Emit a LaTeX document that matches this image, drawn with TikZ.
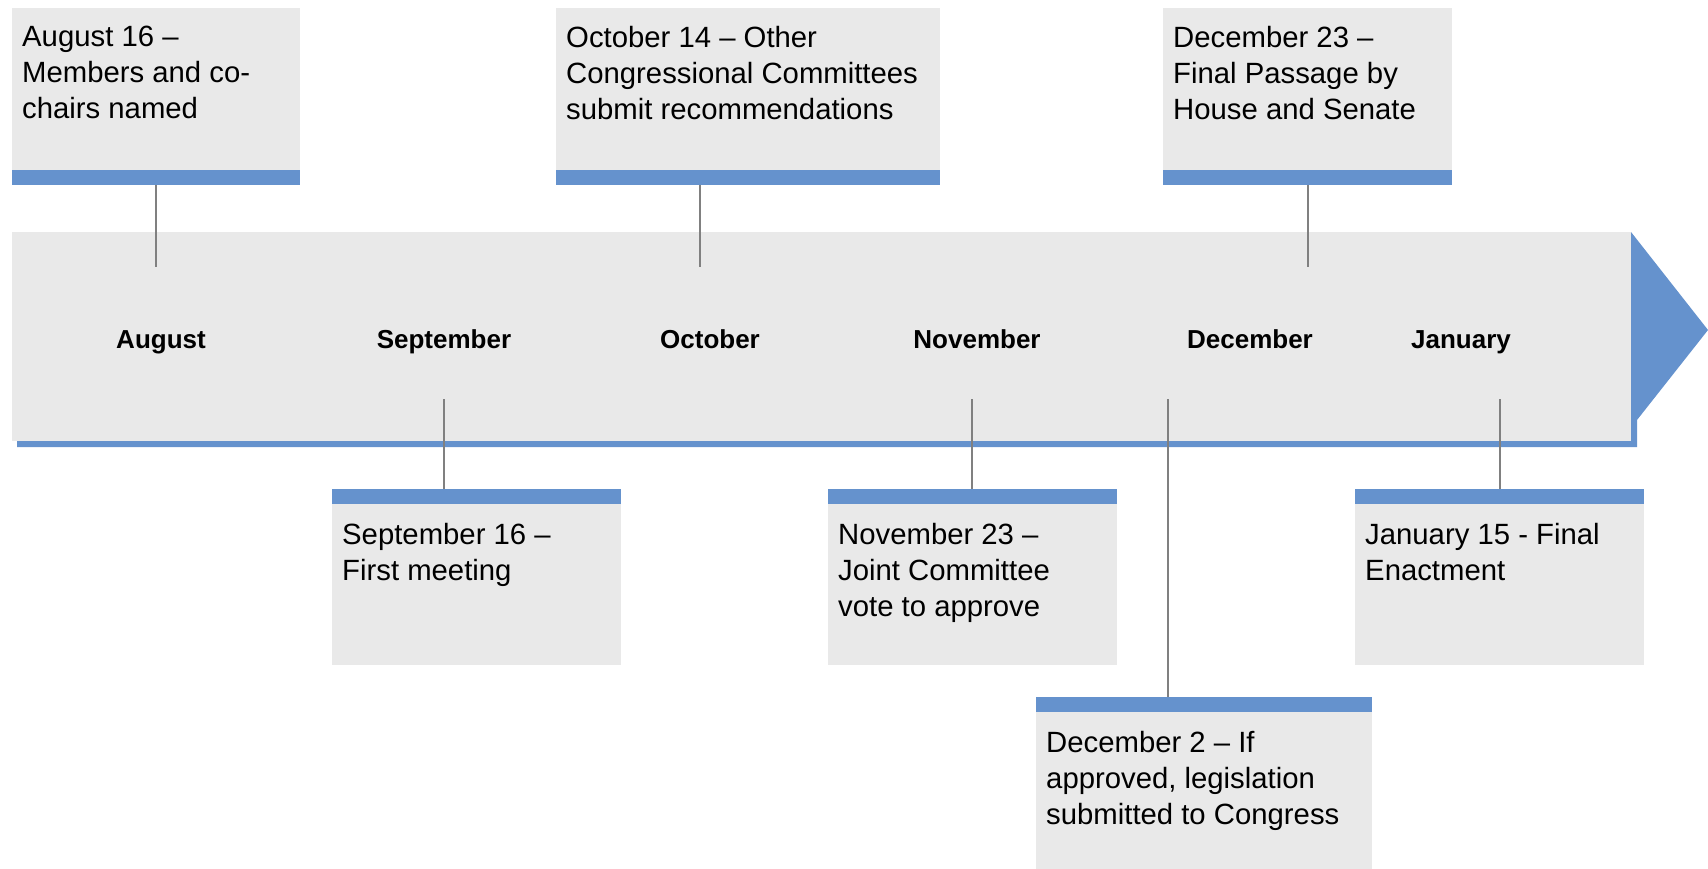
\documentclass[tikz,border=0pt]{standalone}
\usepackage{fontspec}
\setmainfont{Liberation Sans}
\definecolor{bandgray}{HTML}{E9E9E9}
\definecolor{barblue}{HTML}{6592CD}
\definecolor{linkgray}{HTML}{808080}
\begin{document}
\begin{tikzpicture}[x=1pt,y=-1pt,
  evbox/.style={rectangle, fill=bandgray, inner sep=0pt, anchor=north west},
  evbar/.style={rectangle, fill=barblue, inner sep=0pt, minimum height=15pt, anchor=north west},
  evtext/.style={inner sep=0pt, anchor=north west, align=left, font=\fontsize{29.3}{36}\selectfont},
  month/.style={inner sep=0pt, anchor=base, font=\fontsize{26}{30}\selectfont\bfseries},
  link/.style={draw=linkgray, line width=1.6pt}]
\useasboundingbox (0,0) rectangle (1708,869);
% timeline band with its blue arrow
\fill[barblue] (1631,232) -- (1708,330) -- (1637,420) -- (1637,447) -- (17,447) -- (17,300) -- (1631,300) -- cycle;
\fill[bandgray] (12,232) rectangle (1631,441);
\node[month] (m1) at (161,348){August};
\node[month] (m2) at (444,348){September};
\node[month] (m3) at (710,348){October};
\node[month] (m4) at (977,348){November};
\node[month] (m5) at (1250,348){December};
\node[month] (m6) at (1461,348){January};
% events above the band
\node[evbox, minimum width=288pt, minimum height=162pt] (b1) at (12,8){};
\node[evbar, minimum width=288pt] (bar1) at (12,170){};
\node[evtext] (t1) at (22,26){August 16 –\\Members and co-\\chairs named};
\coordinate (c1) at (156,267);
\draw[link] (c1 |- bar1.south) -- (c1);
\node[evbox, minimum width=384pt, minimum height=162pt] (b2) at (556,8){};
\node[evbar, minimum width=384pt] (bar2) at (556,170){};
\node[evtext] (t2) at (566,26){October 14 – Other\\Congressional Committees\\submit recommendations};
\coordinate (c2) at (700,267);
\draw[link] (c2 |- bar2.south) -- (c2);
\node[evbox, minimum width=289pt, minimum height=162pt] (b3) at (1163,8){};
\node[evbar, minimum width=289pt] (bar3) at (1163,170){};
\node[evtext] (t3) at (1173,26){December 23 –\\Final Passage by\\House and Senate};
\coordinate (c3) at (1308,267);
\draw[link] (c3 |- bar3.south) -- (c3);
% events below the band
\node[evbar, minimum width=289pt] (bar4) at (332,489){};
\node[evbox, minimum width=289pt, minimum height=161pt] (b4) at (332,504){};
\node[evtext] (t4) at (342,523){September 16 –\\First meeting};
\coordinate (c4) at (444,399);
\draw[link] (c4) -- (c4 |- bar4.north);
\node[evbar, minimum width=289pt] (bar5) at (828,489){};
\node[evbox, minimum width=289pt, minimum height=161pt] (b5) at (828,504){};
\node[evtext] (t5) at (838,523){November 23 –\\Joint Committee\\vote to approve};
\coordinate (c5) at (972,399);
\draw[link] (c5) -- (c5 |- bar5.north);
\node[evbar, minimum width=336pt] (bar6) at (1036,697){};
\node[evbox, minimum width=336pt, minimum height=157pt] (b6) at (1036,712){};
\node[evtext] (t6) at (1046,731){December 2 – If\\approved, legislation\\submitted to Congress};
\coordinate (c6) at (1168,399);
\draw[link] (c6) -- (c6 |- bar6.north);
\node[evbar, minimum width=289pt] (bar7) at (1355,489){};
\node[evbox, minimum width=289pt, minimum height=161pt] (b7) at (1355,504){};
\node[evtext] (t7) at (1365,523){January 15 - Final\\Enactment};
\coordinate (c7) at (1500,399);
\draw[link] (c7) -- (c7 |- bar7.north);
\end{tikzpicture}
\end{document}
